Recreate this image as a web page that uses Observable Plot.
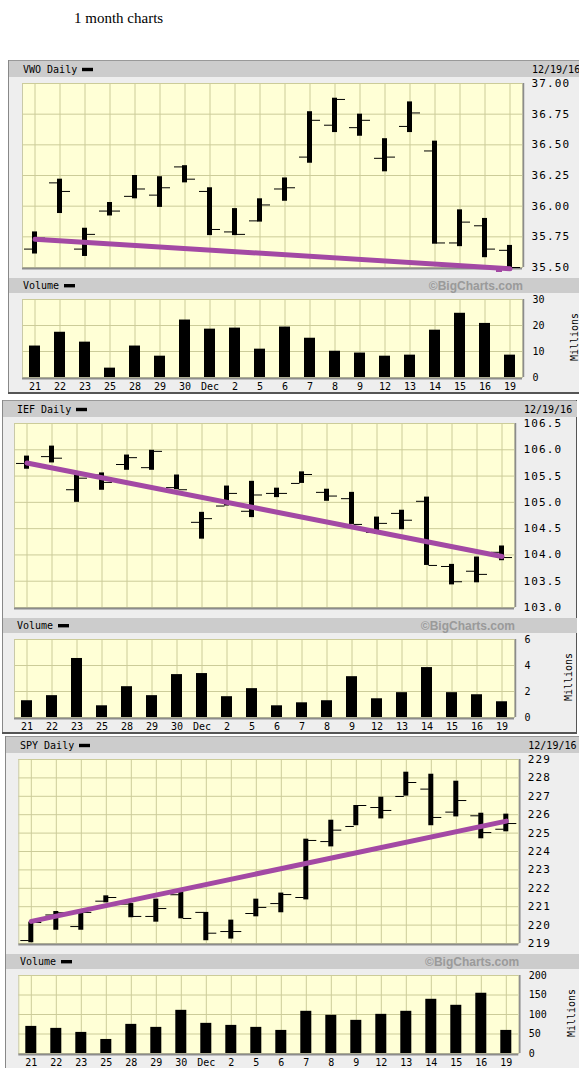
<!DOCTYPE html>
<html><head><meta charset="utf-8">
<script src="https://cdn.jsdelivr.net/npm/d3@7"></script>
<script src="https://cdn.jsdelivr.net/npm/@observablehq/plot@0.6"></script>
<style>
body{margin:0;background:#fff;}
#page{position:relative;width:579px;height:1068px;overflow:hidden;}
#page svg{position:absolute;}
</style></head><body><div id="page"></div>
<script>
// ---------- data ----------
const days = ["21","22","23","25","28","29","30","Dec","2","5","6","7","8","9","12","13","14","15","16","19"];

const vwoOpen  = [35.65,36.19,35.65,35.96,36.08,36.09,36.32,36.12,35.79,35.88,36.14,36.40,36.66,36.64,36.39,36.65,36.45,35.70,35.84,35.64];
const vwoHigh  = [35.79,36.22,35.82,36.03,36.25,36.24,36.33,36.15,35.98,36.06,36.23,36.77,36.88,36.75,36.55,36.85,36.53,35.97,35.90,35.68];
const vwoLow   = [35.61,35.94,35.59,35.92,36.06,35.99,36.19,35.76,35.76,35.87,36.04,36.35,36.60,36.57,36.28,36.60,35.69,35.67,35.58,35.50];
const vwoClose = [35.74,36.12,35.77,35.96,36.14,36.15,36.22,35.81,35.77,36.01,36.15,36.70,36.87,36.70,36.40,36.76,35.70,35.87,35.65,35.50];
const vwoVol   = [12.1,17.4,13.6,3.6,12.1,8.2,22.1,18.6,19.0,10.9,19.4,15.1,10.1,9.4,8.2,8.6,18.2,24.7,20.8,8.6];
const vwoTrend = [35.73,35.49];
const vwoTicks = [35.5,35.75,36,36.25,36.5,36.75,37];
const vwoVolTicks = [0,10,20,30];

const iefOpen  = [105.74,105.87,105.24,105.52,105.72,105.66,105.28,104.62,104.93,104.83,105.17,105.36,105.19,105.07,104.43,104.79,105.02,103.78,103.69,104.05];
const iefHigh  = [105.88,106.07,105.52,105.56,105.90,105.99,105.52,104.81,105.31,105.40,105.27,105.58,105.25,105.19,104.72,104.85,105.10,103.82,103.96,104.17];
const iefLow   = [105.63,105.75,105.00,105.23,105.61,105.61,105.24,104.30,104.93,104.71,105.09,105.36,105.02,104.58,104.39,104.48,103.80,103.43,103.47,103.89];
const iefClose = [105.72,105.84,105.46,105.38,105.85,105.97,105.24,104.69,105.17,105.14,105.17,105.53,105.12,104.58,104.60,104.66,103.80,103.49,103.63,103.95];
const iefVol   = [1.29,1.68,4.54,0.90,2.37,1.68,3.30,3.38,1.60,2.22,0.90,1.13,1.29,3.14,1.44,1.91,3.84,1.91,1.75,1.21];
const iefTrend = [105.75,103.97];
const iefTicks = [103,103.5,104,104.5,105,105.5,106,106.5];
const iefVolTicks = [0,2,4,6];

const spyOpen  = [219.16,220.55,219.92,221.30,221.14,220.47,221.65,220.69,219.65,220.63,221.17,221.50,224.54,225.36,226.39,226.99,227.39,226.14,225.94,225.21];
const spyHigh  = [220.16,220.74,220.69,221.59,221.17,221.41,221.79,220.69,220.27,221.41,221.74,224.67,225.70,226.50,226.95,228.31,228.20,227.82,226.08,226.03];
const spyLow   = [219.04,219.72,219.72,221.21,220.40,220.16,220.34,219.15,219.24,220.45,220.67,221.37,224.25,225.40,225.77,227.01,225.40,225.88,224.69,225.07];
const spyClose = [220.14,220.67,220.69,221.50,220.47,220.90,220.36,219.56,219.65,220.96,221.66,224.60,225.16,226.50,226.23,227.75,225.85,226.77,225.03,225.52];
const spyVol   = [69.5,64.4,54.1,36.0,74.7,67.0,110.7,77.3,72.1,67.0,59.2,108.2,97.9,85.0,100.4,108.2,139.0,123.6,154.5,59.2];
const spyTrend = [220.2,225.65];
const spyTicks = [219,220,221,222,223,224,225,226,227,228,229];
const spyVolTicks = [0,50,100,150,200];

const titleText = "1 month charts";
const dateText = "12/19/16";

// ---------- layout ----------
const W = 579;
const MONO = '"DejaVu Sans Mono", monospace';
const YELLOW = "#ffffd6", GRID = "#cccc99", PURPLE = "#a349a4";
const page = document.getElementById("page");

const panels = [
  {name:"VWO", L:8, T:60, pl:22, legend:true, open:vwoOpen, high:vwoHigh, low:vwoLow, close:vwoClose, vol:vwoVol, trend:vwoTrend, ticks:vwoTicks, fmt:d3.format(".2f"), vticks:vwoVolTicks},
  {name:"IEF", L:2, T:400, pl:14, legend:false, open:iefOpen, high:iefHigh, low:iefLow, close:iefClose, vol:iefVol, trend:iefTrend, ticks:iefTicks, fmt:d3.format(".1f"), vticks:iefVolTicks},
  {name:"SPY", L:5, T:736, pl:18.3, legend:false, open:spyOpen, high:spyHigh, low:spyLow, close:spyClose, vol:spyVol, trend:spyTrend, ticks:spyTicks, fmt:d3.format("d"), vticks:spyVolTicks}
];

// background chrome
const bg = d3.select(page).append("svg").attr("width", W).attr("height", 1068).style("left","0px").style("top","0px");
bg.append("text").attr("x", 74).attr("y", 22.5).attr("font-family", '"Liberation Serif", serif').attr("font-size", 15).text(titleText);

for (const p of panels) {
  const {L, T, pl} = p;
  const g = bg.append("g");
  g.append("rect").attr("x", L).attr("y", T).attr("width", 575).attr("height", 333).attr("fill", "#eeeeee");
  g.append("line").attr("x1", L).attr("x2", L+575).attr("y1", T+0.5).attr("y2", T+0.5).attr("stroke", "#999");
  g.append("line").attr("x1", L+0.5).attr("x2", L+0.5).attr("y1", T).attr("y2", T+334).attr("stroke", "#888");
  g.append("line").attr("x1", L+574.5).attr("x2", L+574.5).attr("y1", T).attr("y2", T+334).attr("stroke", "#555");
  g.append("line").attr("x1", L).attr("x2", L+575).attr("y1", T+333).attr("y2", T+333).attr("stroke", "#555").attr("stroke-width", 2);
  // headers
  g.append("rect").attr("x", L+1).attr("y", T+1).attr("width", 574).attr("height", 16).attr("fill", "#cccccc");
  if (p.legend) {
    g.append("rect").attr("x", pl+474).attr("y", T+209).attr("width", 6).attr("height", 3).attr("fill", PURPLE);
  }
  g.append("rect").attr("x", L+1).attr("y", T+218).attr("width", 574).attr("height", 15).attr("fill", "#cccccc");
  const t1 = p.name + " Daily";
  g.append("text").attr("x", L+15).attr("y", T+13.3).attr("font-family", MONO).attr("font-size", 10).text(t1);
  g.append("rect").attr("x", L+15+t1.length*6+5).attr("y", T+7.8).attr("width", 11).attr("height", 3.4).attr("fill", "#000");
  g.append("text").attr("x", pl+510).attr("y", T+13.3).attr("font-family", MONO).attr("font-size", 10).text(dateText);
  g.append("text").attr("x", L+15).attr("y", T+229).attr("font-family", MONO).attr("font-size", 10).text("Volume");
  g.append("rect").attr("x", L+15+36+5).attr("y", T+224).attr("width", 11).attr("height", 3.4).attr("fill", "#000");
  g.append("text").attr("x", pl+501).attr("y", T+229.5).attr("text-anchor", "end")
    .attr("font-family", '"Liberation Sans", Arial, sans-serif').attr("font-weight", "bold").attr("font-size", 12)
    .attr("fill", "#9a9a9a").text("\u00A9BigCharts.com");
  g.append("text").attr("transform", `translate(${L+566},${T+277}) rotate(-90)`).attr("text-anchor", "middle")
    .attr("dy", "0.35em").attr("font-family", MONO).attr("font-size", 10).text("Millions");
}

// ---------- plots ----------
const idx = d3.range(days.length);
const xDomain = [-0.5, days.length - 0.5];

function place(svg, top) {
  svg.style.left = "0px";
  svg.style.top = top + "px";
  page.appendChild(svg);
}

for (const p of panels) {
  const rows = idx.map(i => ({i, o:p.open[i], h:p.high[i], l:p.low[i], c:p.close[i], v:p.vol[i]}));
  const trendRows = [{i:0, v:p.trend[0]}, {i:days.length-1, v:p.trend[1]}];
  const y0 = p.ticks[0], y1 = p.ticks[p.ticks.length-1];

  const price = Plot.plot({
    width: W, height: 195,
    marginLeft: p.pl, marginRight: W - p.pl - 500, marginTop: 5, marginBottom: 6,
    x: {type: "linear", domain: xDomain, axis: null},
    y: {domain: [y0, y1], axis: "right", ticks: p.ticks, tickFormat: p.fmt, tickSize: 0, tickPadding: 9, label: null},
    style: {fontFamily: MONO, fontSize: "11px", letterSpacing: "1.1px", background: "transparent", overflow: "visible"},
    marks: [
      Plot.frame({fill: YELLOW, stroke: "#c9c9a8"}),
      Plot.ruleX(idx, {stroke: GRID}),
      Plot.ruleY(p.ticks, {stroke: GRID}),
      Plot.ruleY([y0], {stroke: "#8c8c8c", strokeWidth: 2, dy: 1}),
      Plot.ruleX([xDomain[1]], {stroke: "#8c8c8c", strokeWidth: 1.5, dx: 1}),
      Plot.rect(rows, {x1: d => d.i - 0.1, x2: d => d.i + 0.1, y1: "l", y2: "h", fill: "#000"}),
      Plot.ruleY(rows, {x1: d => d.i - 0.42, x2: d => d.i - 0.08, y: "o", stroke: "#000"}),
      Plot.ruleY(rows, {x1: d => d.i + 0.08, x2: d => d.i + 0.42, y: "c", stroke: "#000"}),
      Plot.line(trendRows, {x: "i", y: "v", stroke: PURPLE, strokeWidth: 5})
    ]
  });
  place(price, p.T + 18);

  const vmax = p.vticks[p.vticks.length-1];
  const volume = Plot.plot({
    width: W, height: 101,
    marginLeft: p.pl, marginRight: W - p.pl - 500, marginTop: 7, marginBottom: 16,
    x: {type: "linear", domain: xDomain, ticks: idx, tickFormat: i => days[i], tickSize: 0, tickPadding: 5, label: null},
    y: {domain: [0, vmax], axis: "right", ticks: p.vticks, tickFormat: d3.format("d"), tickSize: 0, tickPadding: 10, label: null},
    style: {fontFamily: MONO, fontSize: "10px", background: "transparent", overflow: "visible"},
    marks: [
      Plot.frame({fill: YELLOW, stroke: "#c9c9a8"}),
      Plot.ruleX(idx, {stroke: GRID}),
      Plot.ruleY(p.vticks, {stroke: GRID}),
      Plot.ruleY([0], {stroke: "#8c8c8c", strokeWidth: 2, dy: 1}),
      Plot.ruleX([xDomain[1]], {stroke: "#8c8c8c", strokeWidth: 1.5, dx: 1}),
      Plot.rect(rows, {x1: d => d.i - 0.22, x2: d => d.i + 0.22, y1: 0, y2: "v", fill: "#000"})
    ]
  });
  place(volume, p.T + 232);
}
</script></body></html>
